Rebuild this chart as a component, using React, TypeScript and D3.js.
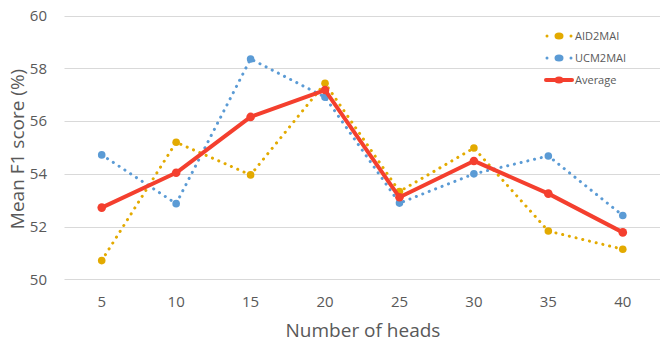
import React, { useEffect, useRef } from 'react'
import * as d3 from 'd3'

const heads = ['5', '10', '15', '20', '25', '30', '35', '40']
const aid2mai = [50.71, 55.2, 53.96, 57.44, 53.33, 54.98, 51.83, 51.14]
const ucm2mai = [54.72, 52.87, 58.36, 56.91, 52.89, 54.0, 54.68, 52.42]
const average = [52.72, 54.04, 56.16, 57.18, 53.11, 54.49, 53.25, 51.78]
const yTicks = [50, 52, 54, 56, 58, 60]

const seriesList = [
  { name: 'AID2MAI', values: aid2mai, color: '#e3aa00', dotted: true },
  { name: 'UCM2MAI', values: ucm2mai, color: '#5b9bd5', dotted: true },
  { name: 'Average', values: average, color: '#f43f2e', dotted: false },
]

const W = 664
const H = 343

const App = () => {
  const svgRef = useRef<SVGSVGElement>(null)

  useEffect(() => {
    const svg = d3.select(svgRef.current)
    svg.selectAll('*').remove()

    const font = '"Open Sans", sans-serif'
    const textColor = '#595959'

    // plot area
    const x = d3.scaleBand().domain(heads).range([64.5, 660])
    const y = d3.scaleLinear().domain([50, 60]).range([279.3, 15.7])
    const cx = (d: string) => (x(d) as number) + x.bandwidth() / 2

    // gridlines
    svg
      .append('g')
      .selectAll('line')
      .data(yTicks)
      .join('line')
      .attr('x1', 64.5)
      .attr('x2', 660)
      .attr('y1', (d) => Math.round(y(d)) + 0.5)
      .attr('y2', (d) => Math.round(y(d)) + 0.5)
      .attr('stroke', '#d9d9d9')
      .attr('stroke-width', 1)

    // y tick labels
    svg
      .append('g')
      .selectAll('text')
      .data(yTicks)
      .join('text')
      .attr('x', 47)
      .attr('y', (d) => y(d))
      .attr('dy', '0.35em')
      .attr('text-anchor', 'end')
      .attr('fill', textColor)
      .style('font-family', font)
      .style('font-size', '15px')
      .text((d) => d)

    // x tick labels
    svg
      .append('g')
      .selectAll('text')
      .data(heads)
      .join('text')
      .attr('x', cx)
      .attr('y', 302)
      .attr('dy', '0.35em')
      .attr('text-anchor', 'middle')
      .attr('fill', textColor)
      .style('font-family', font)
      .style('font-size', '15px')
      .text((d) => d)

    // axis titles
    svg
      .append('text')
      .attr('x', 363)
      .attr('y', 337)
      .attr('text-anchor', 'middle')
      .attr('fill', textColor)
      .style('font-family', font)
      .style('font-size', '19px')
      .text('Number of heads')

    svg
      .append('text')
      .attr('transform', 'translate(17,149) rotate(-90)')
      .attr('dy', '0.35em')
      .attr('text-anchor', 'middle')
      .attr('fill', textColor)
      .style('font-family', font)
      .style('font-size', '19px')
      .text('Mean F1 score (%)')

    const line = d3
      .line<number>()
      .x((_, i) => cx(heads[i]))
      .y((d) => y(d))

    seriesList.forEach((s) => {
      const g = svg.append('g')
      g.append('path')
        .datum(s.values)
        .attr('d', line)
        .attr('fill', 'none')
        .attr('stroke', s.color)
        .attr('stroke-width', s.dotted ? 3 : 4)
        .attr('stroke-linecap', 'round')
        .attr('stroke-linejoin', 'round')
        .attr('stroke-dasharray', s.dotted ? '0.1 6.8' : null)
      g.selectAll('circle')
        .data(s.values)
        .join('circle')
        .attr('cx', (_, i) => cx(heads[i]))
        .attr('cy', (d) => y(d))
        .attr('r', s.dotted ? 3.8 : 4.3)
        .attr('fill', s.color)
    })

    // legend
    const legend = svg.append('g').attr('id', 'legend')
    seriesList.forEach((s, i) => {
      const ly = 36 + i * 22
      const item = legend.append('g')
      if (s.dotted) {
        item
          .selectAll('.ld')
          .data([547, 571])
          .join('circle')
          .attr('cx', (d) => d)
          .attr('cy', ly)
          .attr('r', 1.5)
          .attr('fill', s.color)
      } else {
        item
          .append('line')
          .attr('x1', 546)
          .attr('x2', 572)
          .attr('y1', ly)
          .attr('y2', ly)
          .attr('stroke', s.color)
          .attr('stroke-width', 4)
          .attr('stroke-linecap', 'round')
      }
      item
        .append('ellipse')
        .attr('cx', 559)
        .attr('cy', ly)
        .attr('rx', 4.5)
        .attr('ry', 3.5)
        .attr('fill', s.color)
      item
        .append('text')
        .attr('x', 575)
        .attr('y', ly)
        .attr('dy', '0.35em')
        .attr('fill', textColor)
        .style('font-family', font)
        .style('font-size', '11px')
        .text(s.name)
    })
  }, [])

  return (
    <svg
      ref={svgRef}
      width={W}
      height={H}
      style={{ position: 'absolute', left: 0, top: 0, background: '#fff' }}
    />
  )
}

export default App
